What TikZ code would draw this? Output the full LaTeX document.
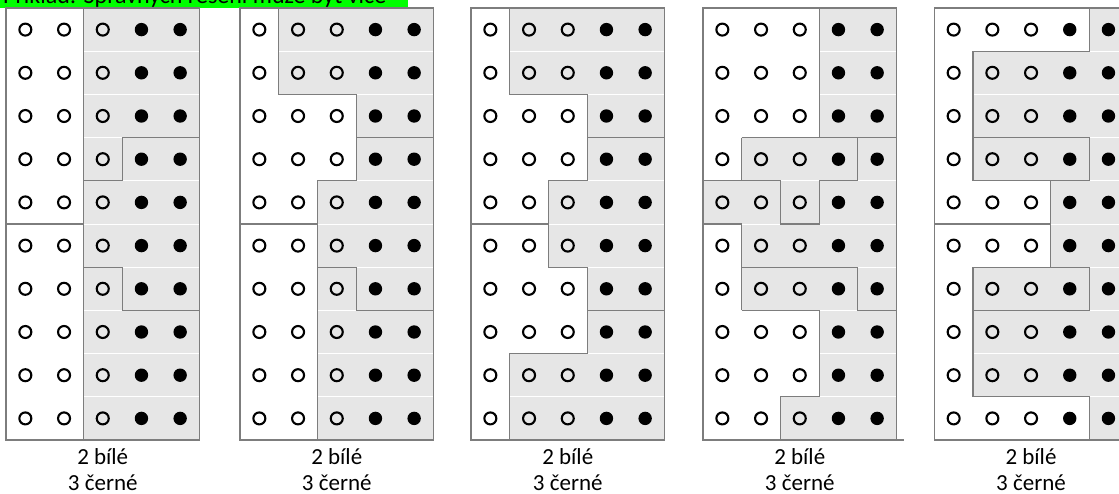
\documentclass[tikz,border=0pt]{standalone}
\usepackage{fontspec}
\setmainfont{Carlito}
\definecolor{cellgray}{RGB}{230,230,230}
\definecolor{edgegray}{RGB}{125,125,125}
\definecolor{hlgreen}{RGB}{0,255,0}
\tikzset{
  opendot/.style={circle,draw=black,line width=2.1pt,minimum size=12pt,inner sep=0pt},
  fulldot/.style={circle,fill=black,minimum size=13.4pt,inner sep=0pt},
  edgeline/.style={draw=edgegray,line width=1.2pt},
  sepline/.style={draw=white,line width=0.9pt},
  lbl/.style={font=\fontsize{23}{28}\selectfont,anchor=base,inner sep=0pt,text depth=0pt},
  titletext/.style={font=\fontsize{24}{28}\selectfont,anchor=base west,inner sep=0pt},
  panel/.style={x=38.7pt,y=-43.2pt}
}
\newcommand{\dotgrid}[1]{%
  \foreach \r in {0,...,9}{%
    \foreach \c in {0,1,2}{\node[opendot] (#1-\r-\c) at (\c+0.5,\r+0.5) {};}
    \foreach \c in {3,4}{\node[fulldot] (#1-\r-\c) at (\c+0.5,\r+0.5) {};}
  }}
\newcommand{\rowseps}{\foreach \j in {1,...,9}{\draw[sepline] (0,\j)--(5,\j);}}
\begin{document}
\begin{tikzpicture}[x=1pt,y=-1pt]
\useasboundingbox (0,0) rectangle (1119,493);
\clip (0,0) rectangle (1119,493);
\fill[white] (0,0) rectangle (1119,493);
% title (cut off at the top in the reference)
\fill[hlgreen] (0,0) rectangle (408,8);
\begin{scope}
  \clip (0,0) rectangle (408,8);
  \node[titletext] (title) at (3,3) {Příklad: Správných řešení může být více};
\end{scope}

% ---------- panel 1
\begin{scope}[shift={(6,8)},panel]
  \fill[cellgray] (2,0) rectangle (5,10);
  \rowseps
  \draw[edgeline] (0,0) rectangle (5,10);
  \draw[edgeline] (2,0)--(2,10);
  \draw[edgeline] (0,5)--(2,5);
  \draw[edgeline] (2,4)--(3,4)--(3,3)--(5,3);
  \draw[edgeline] (2,6)--(3,6)--(3,7)--(5,7);
  \dotgrid{p1}
\end{scope}
\node[lbl] (p1a) at (102.75,464) {2 bílé};
\node[lbl] (p1b) at (102.75,490.5) {3 černé};

% ---------- panel 2
\begin{scope}[shift={(240,8)},panel]
  \fill[cellgray] (1,0) rectangle (5,2) (3,2) rectangle (5,4) (2,4) rectangle (5,10);
  \rowseps
  \draw[edgeline] (0,0) rectangle (5,10);
  \draw[edgeline] (1,0)--(1,2)--(3,2)--(3,4)--(2,4)--(2,10);
  \draw[edgeline] (3,3)--(5,3);
  \draw[edgeline] (0,5)--(2,5);
  \draw[edgeline] (2,6)--(3,6)--(3,7)--(5,7);
  \dotgrid{p2}
\end{scope}
\node[lbl] (p2a) at (336.75,464) {2 bílé};
\node[lbl] (p2b) at (336.75,490.5) {3 černé};

% ---------- panel 3
\begin{scope}[shift={(471,8)},panel]
  \fill[cellgray] (1,0) rectangle (5,2) (3,2) rectangle (5,4) (2,4) rectangle (5,6)
                  (3,6) rectangle (5,8) (1,8) rectangle (5,10);
  \rowseps
  \draw[edgeline] (0,0) rectangle (5,10);
  \draw[edgeline] (1,0)--(1,2)--(3,2)--(3,4)--(2,4)--(2,6)--(3,6)--(3,8)--(1,8)--(1,10);
  \draw[edgeline] (3,3)--(5,3);
  \draw[edgeline] (3,7)--(5,7);
  \draw[edgeline] (0,5)--(2,5);
  \dotgrid{p3}
\end{scope}
\node[lbl] (p3a) at (567.75,464) {2 bílé};
\node[lbl] (p3b) at (567.75,490.5) {3 černé};

% ---------- panel 4
\begin{scope}[shift={(703,8)},panel]
  \fill[cellgray] (3,0) rectangle (5,3) (1,3) rectangle (5,4) (0,4) rectangle (5,5)
                  (1,5) rectangle (5,7) (3,7) rectangle (5,9) (2,9) rectangle (5,10);
  \rowseps
  \draw[edgeline] (0,0) rectangle (5,10);
  \draw[edgeline] (0,10)--(5.2,10);
  \draw[edgeline] (3,0)--(3,3);
  \draw[edgeline] (1,3)--(5,3);
  \draw[edgeline] (1,3)--(1,4);
  \draw[edgeline] (0,4)--(2,4)--(2,5)--(3,5)--(3,4)--(4,4)--(4,3);
  \draw[edgeline] (0,5)--(1,5)--(1,7);
  \draw[edgeline] (1,6)--(4,6)--(4,7)--(5,7);
  \draw[edgeline] (1,7)--(3,7)--(3,9)--(2,9)--(2,10);
  \dotgrid{p4}
\end{scope}
\node[lbl] (p4a) at (799.75,464) {2 bílé};
\node[lbl] (p4b) at (799.75,490.5) {3 černé};

% ---------- panel 5 (cut at the right edge)
\begin{scope}[shift={(934.3,8)},panel]
  \fill[cellgray] (4,0) rectangle (5,1) (1,1) rectangle (5,4) (3,4) rectangle (5,6)
                  (1,6) rectangle (5,9) (4,9) rectangle (5,10);
  \rowseps
  \draw[edgeline] (0,0) rectangle (5,10);
  \draw[edgeline] (4,0)--(4,1)--(1,1)--(1,4)--(3,4)--(3,6)--(1,6)--(1,9)--(4,9)--(4,10);
  \draw[edgeline] (1,3)--(4,3)--(4,4)--(3,4);
  \draw[edgeline] (0,5)--(3,5);
  \draw[edgeline] (1,7)--(4,7)--(4,6)--(3,6);
  \dotgrid{p5}
\end{scope}
\node[lbl] (p5a) at (1031,464) {2 bílé};
\node[lbl] (p5b) at (1031,490.5) {3 černé};
\end{tikzpicture}
\end{document}
